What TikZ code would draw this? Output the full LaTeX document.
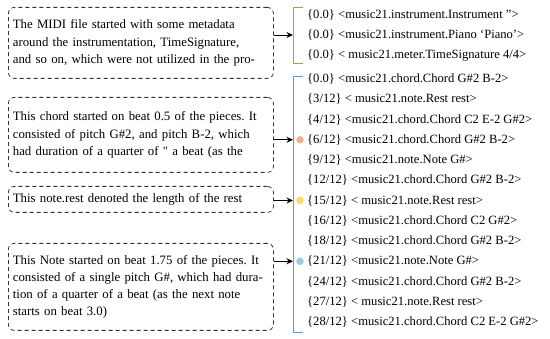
\documentclass[tikz,border=0pt]{standalone}
\usepackage{fontspec}
\setmainfont{Liberation Serif}
\usetikzlibrary{arrows.meta}
\frenchspacing
\definecolor{metagreen}{RGB}{120,180,80}
\definecolor{streamblue}{RGB}{91,155,213}
\definecolor{dotorange}{RGB}{244,177,140}
\definecolor{dotyellow}{RGB}{255,217,102}
\definecolor{dotblue}{RGB}{160,198,232}
\begin{document}
\begin{tikzpicture}[>={Stealth[length=6.5pt,width=6pt]}, x=1pt, y=-1pt,
  note/.style={draw=black!80, dash pattern=on 4pt off 3pt, line width=0.8pt,
    rounded corners=6pt, anchor=north west, align=left, text width=256pt,
    inner xsep=4.5pt, font=\fontsize{12.8}{17.2}\selectfont},
  row/.style={anchor=west, inner sep=0pt, font=\fontsize{12.6}{12}\selectfont},
  dot/.style={circle, inner sep=0pt, minimum size=7.5pt}]
  \useasboundingbox (0,0) rectangle (550,339);
  \coordinate (spine) at (293,0);
  % comments on the left
  \node[note, minimum height=71pt] (meta) at (8,7) {The MIDI file started with some metadata\\around the instrumentation, TimeSignature,\\and so on, which were not utilized in the pro-};
  \node[note, minimum height=75pt] (chord) at (8,97) {This chord started on beat 0.5 of the pieces. It\\consisted of pitch G\#2, and pitch B-2, which\\had duration of a quarter of \textquotedbl{} a beat (as the};
  \node[note, minimum height=26pt] (rest) at (8,186) {This note.rest denoted the length of the rest};
  \node[note, minimum height=87pt] (note) at (8,243) {This Note started on beat 1.75 of the pieces. It\\consisted of a single pitch G\#, which had dura-\\tion of a quarter of a beat (as the next note\\starts on beat 3.0)};
  % metadata rows
  \node[row] (g0) at (307,15) {\{0.0\} <music21.instrument.Instrument ''>};
  \node[row] (g1) at (307,35) {\{0.0\} <music21.instrument.Piano `Piano'>};
  \node[row] (g2) at (307,55.5) {\{0.0\} < music21.meter.TimeSignature 4/4>};
  % stream rows
  \node[row] (r0) at (307,79) {\{0.0\} <music21.chord.Chord G\#2 B-2>};
  \node[row] (r1) at (307,99.25) {\{3/12\} < music21.note.Rest rest>};
  \node[row] (r2) at (307,119.5) {\{4/12\} <music21.chord.Chord C2 E-2 G\#2>};
  \node[row] (r3) at (307,139.75) {\{6/12\} <music21.chord.Chord G\#2 B-2>};
  \node[row] (r4) at (307,160) {\{9/12\} <music21.note.Note G\#>};
  \node[row] (r5) at (307,180.25) {\{12/12\} <music21.chord.Chord G\#2 B-2>};
  \node[row] (r6) at (307,200.5) {\{15/12\} < music21.note.Rest rest>};
  \node[row] (r7) at (307,220.75) {\{16/12\} <music21.chord.Chord C2 G\#2>};
  \node[row] (r8) at (307,241) {\{18/12\} <music21.chord.Chord G\#2 B-2>};
  \node[row] (r9) at (307,261.25) {\{21/12\} <music21.note.Note G\#>};
  \node[row] (r10) at (307,281.5) {\{24/12\} <music21.chord.Chord G\#2 B-2>};
  \node[row] (r11) at (307,301.75) {\{27/12\} < music21.note.Rest rest>};
  \node[row] (r12) at (307,322) {\{28/12\} <music21.chord.Chord C2 E-2 G\#2>};
  % brackets
  \draw[metagreen, line width=0.9pt] (303,7) -- (293,7) -- (293,63) -- (303,63);
  \draw[streamblue, line width=0.9pt] (303,76) -- (293,76) -- (293,332) -- (303,332);
  % markers
  \node[dot, fill=dotorange] (d3) at ([xshift=-7pt]r3.west) {};
  \node[dot, fill=dotyellow] (d6) at ([xshift=-7pt]r6.west) {};
  \node[dot, fill=dotblue] (d9) at ([xshift=-7pt]r9.west) {};
  % links
  \draw[->, line width=0.8pt] (meta.east |- g1) -- (g1 -| spine);
  \draw[->, line width=0.8pt] (chord.east |- r3) -- (r3 -| spine);
  \draw[->, line width=0.8pt] (rest.east |- r6) -- (r6 -| spine);
  \draw[->, line width=0.8pt] (note.east |- r9) -- (r9 -| spine);
\end{tikzpicture}
\end{document}
